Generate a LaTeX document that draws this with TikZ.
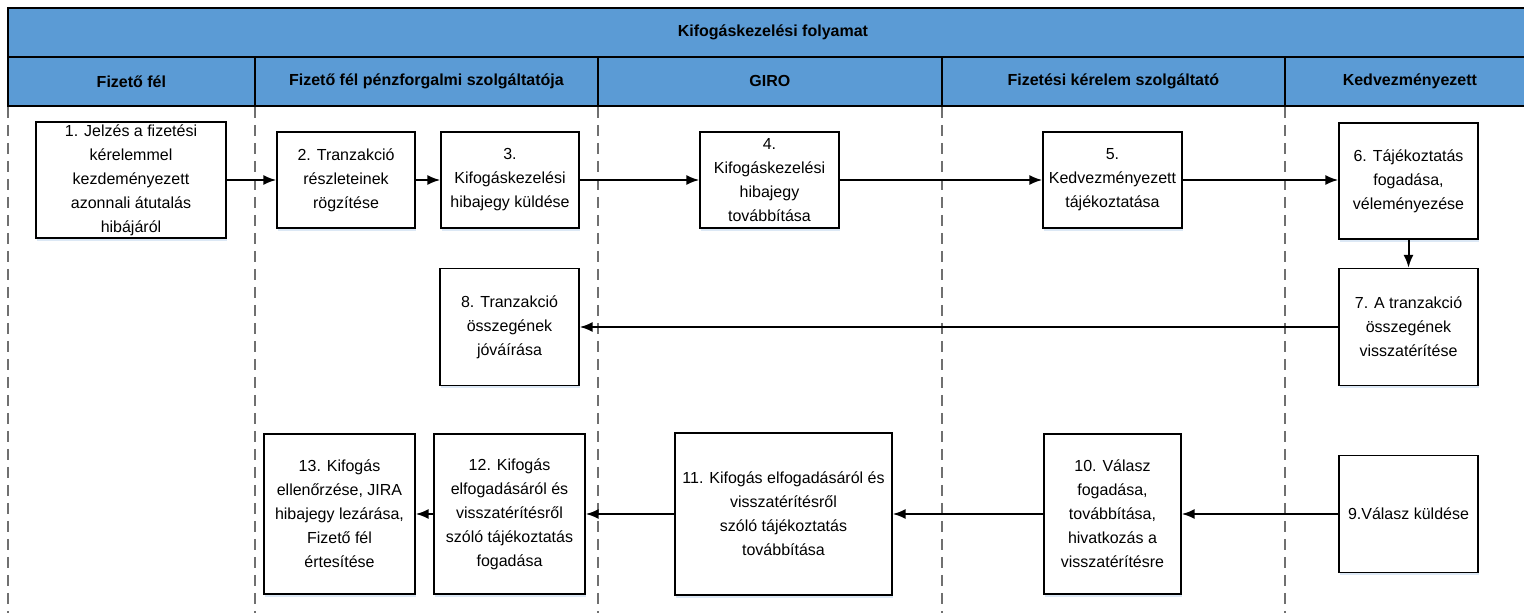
\documentclass[tikz,border=0pt]{standalone}
\usepackage{fontspec}
\setmainfont{Liberation Sans}
\usetikzlibrary{arrows.meta,shadows}

\definecolor{laneblue}{HTML}{5B9BD5}
\definecolor{shadowblue}{HTML}{DCE8F5}
\definecolor{dashgray}{HTML}{707070}

\tikzset{
  lanehead/.style={draw=black,line width=1.8pt,fill=laneblue,inner sep=0pt,
    minimum height=49pt,font=\bfseries\fontsize{16}{20}\selectfont},
  stepbox/.style={draw=black,line width=1.3pt,fill=white,inner sep=0pt,
    align=center,font=\fontsize{16}{24}\selectfont,
    drop shadow={fill=shadowblue,shadow xshift=1pt,shadow yshift=-2.5pt,opacity=1}},
  flow/.style={-{Latex[length=13pt,width=10pt]},line width=2pt},
  laneline/.style={dashed,dash pattern=on 11pt off 7pt,draw=dashgray,line width=1.3pt}
}

\begin{document}
\begin{tikzpicture}[x=1pt,y=-1pt]
\useasboundingbox (0,0) rectangle (1524,613);

% fejléc
\node[lanehead,minimum width=1530pt,anchor=north west] (title) at (7,7) {Kifogáskezelési folyamat};
\node[lanehead,minimum width=247pt,anchor=north west] (lane1) at (7,56) {Fizető fél};
\node[lanehead,minimum width=343pt,anchor=north west] (lane2) at (254,56) {Fizető fél pénzforgalmi szolgáltatója};
\node[lanehead,minimum width=344pt,anchor=north west] (lane3) at (597,56) {GIRO};
\node[lanehead,minimum width=343pt,anchor=north west] (lane4) at (941,56) {Fizetési kérelem szolgáltató};
\node[lanehead,minimum width=250pt,anchor=north west] (lane5) at (1284,56) {Kedvezményezett};

% sávhatárok
\foreach \l in {lane1,lane2,lane3,lane4,lane5}
  \draw[laneline] (\l.south west) ++(1,0) -- ++(0,510);

% lépések
\node[stepbox,minimum width=190pt,minimum height=116pt] (b1) at (131,180)
  {1. Jelzés a fizetési\\kérelemmel\\kezdeményezett\\azonnali átutalás\\hibájáról};
\node[stepbox,minimum width=138pt,minimum height=96pt] (b2) at (346,180)
  {2. Tranzakció\\részleteinek\\rögzítése};
\node[stepbox,minimum width=138pt,minimum height=96pt] (b3) at (510,180)
  {3.\\Kifogáskezelési\\hibajegy küldése};
\node[stepbox,minimum width=139pt,minimum height=96pt] (b4) at (769.5,180)
  {4.\\Kifogáskezelési\\hibajegy\\továbbítása};
\node[stepbox,minimum width=139pt,minimum height=96pt] (b5) at (1112.5,180)
  {5.\\Kedvezményezett\\tájékoztatása};
\node[stepbox,minimum width=139pt,minimum height=116pt] (b6) at (1408.5,181)
  {6. Tájékoztatás\\fogadása,\\véleményezése};
\node[stepbox,minimum width=139pt,minimum height=117pt] (b7) at (1408.5,327)
  {7. A tranzakció\\összegének\\visszatérítése};
\node[stepbox,minimum width=139pt,minimum height=117pt] (b8) at (509.5,327)
  {8. Tranzakció\\összegének\\jóváírása};
\node[stepbox,minimum width=139pt,minimum height=117pt] (b9) at (1408.5,514)
  {9.Válasz küldése};
\node[stepbox,minimum width=137pt,minimum height=160pt] (b10) at (1112.5,514)
  {10. Válasz\\fogadása,\\továbbítása,\\hivatkozás a\\visszatérítésre};
\node[stepbox,minimum width=217pt,minimum height=162pt] (b11) at (783.5,514)
  {11. Kifogás elfogadásáról és\\visszatérítésről\\szóló tájékoztatás\\továbbítása};
\node[stepbox,minimum width=151pt,minimum height=160pt] (b12) at (509.5,514)
  {12. Kifogás\\elfogadásáról és\\visszatérítésről\\szóló tájékoztatás\\fogadása};
\node[stepbox,minimum width=151pt,minimum height=160pt] (b13) at (339.5,514)
  {13. Kifogás\\ellenőrzése, JIRA\\hibajegy lezárása,\\Fizető fél\\értesítése};

% nyilak
\draw[flow] (b1) -- (b2);
\draw[flow] (b2) -- (b3);
\draw[flow] (b3) -- (b4);
\draw[flow] (b4.east) -- (b4.east -| b5.west);
\draw[flow] (b5.east) -- (b5.east -| b6.west);
\draw[flow] (b6) -- (b7);
\draw[flow] (b7) -- (b8);
\draw[flow] (b9) -- (b10);
\draw[flow] (b10) -- (b11);
\draw[flow] (b11) -- (b12);
\draw[flow] (b12) -- (b13);
\end{tikzpicture}
\end{document}
